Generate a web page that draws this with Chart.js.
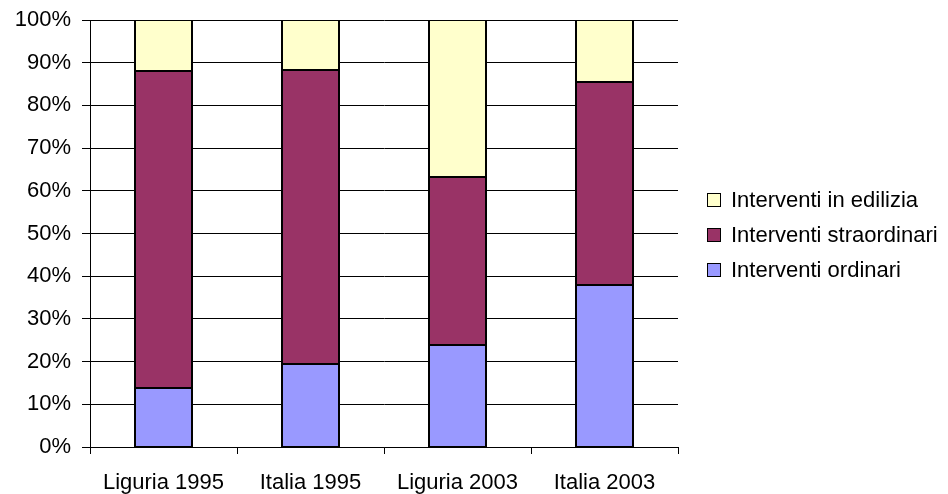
<!DOCTYPE html>
<html>
<head>
<meta charset="utf-8">
<script src="https://cdn.jsdelivr.net/npm/chart.js@4/dist/chart.umd.min.js"></script>
<style>
  html, body { margin: 0; padding: 0; background: #fff; }
  #wrap { position: relative; width: 948px; height: 494px; }
  #c { position: absolute; left: 0; top: 0; }
  #legend { position: absolute; left: 0; top: 0; font-family: "Liberation Sans", Arial, sans-serif; font-size: 22px; color: #000; }
  .row { position: absolute; left: 707px; height: 26px; line-height: 26px; white-space: nowrap; }
  .box { position: absolute; left: 0; top: 6px; width: 12px; height: 12px; border: 1px solid #000; }
  .txt { position: absolute; left: 24px; top: 0; }
</style>
</head>
<body>
<div id="wrap">
  <canvas id="c" width="948" height="494"></canvas>
  <div id="legend"></div>
</div>
<script>
const categories = ["Liguria 1995", "Italia 1995", "Liguria 2003", "Italia 2003"];
const seriesNames = ["Interventi ordinari", "Interventi straordinari", "Interventi in edilizia"];
const ordinari = [13.8, 19.4, 23.9, 38.0];
const straordinari = [74.3, 69.0, 39.4, 47.4];
const edilizia = [11.9, 11.6, 36.7, 14.6];
const seriesColors = ["#9999FF", "#993366", "#FFFFCC"];
const yTicks = [0, 10, 20, 30, 40, 50, 60, 70, 80, 90, 100];

const FONT = { family: "'Liberation Sans', Arial, sans-serif", size: 22 };

const datasets = [ordinari, straordinari, edilizia].map((d, i) => ({
  label: seriesNames[i],
  data: d,
  backgroundColor: seriesColors[i],
  borderWidth: 0,
  inflateAmount: 0,
  barThickness: 59
}));

// Outline every bar segment using the geometry Chart.js computed
const outlinePlugin = {
  id: "outline",
  afterDatasetsDraw(chart) {
    const ctx = chart.ctx;
    ctx.save();
    ctx.fillStyle = "#000";
    chart.data.datasets.forEach((ds, i) => {
      chart.getDatasetMeta(i).data.forEach(bar => {
        const p = bar.getProps(["x", "y", "base", "width"], true);
        const l = Math.round(p.x - p.width / 2);
        const r = Math.round(p.x + p.width / 2);
        const t = Math.round(Math.min(p.y, p.base));
        const b = Math.round(Math.max(p.y, p.base));
        ctx.fillRect(l, t, r - l, 1);
        ctx.fillRect(l, b - 1, r - l, 1);
        ctx.fillRect(l, t, 2, b - t);
        ctx.fillRect(r - 2, t, 2, b - t);
      });
    });
    ctx.restore();
  }
};

const chart = new Chart(document.getElementById("c"), {
  type: "bar",
  data: { labels: categories, datasets },
  plugins: [outlinePlugin],
  options: {
    responsive: false,
    animation: false,
    devicePixelRatio: 1,
    layout: { padding: { left: 0, right: 270, top: 20, bottom: 0 } },
    plugins: { legend: { display: false }, tooltip: { enabled: false } },
    scales: {
      x: {
        stacked: true,
        grid: { offset: true, drawOnChartArea: false, color: "#000", lineWidth: 1, tickLength: 7, tickColor: "#000" },
        border: { display: true, color: "#000", width: 1 },
        ticks: { color: "#000", font: FONT, padding: 16, maxRotation: 0 },
        afterFit: s => { s.height = 47; s.paddingLeft = 0; s.paddingRight = 0; }
      },
      y: {
        stacked: true,
        min: 0, max: 100,
        afterBuildTicks: s => { s.ticks = yTicks.map(v => ({ value: v })); },
        grid: { color: "#000", lineWidth: 1, tickLength: 8, tickColor: "#000" },
        border: { display: true, color: "#000", width: 1 },
        ticks: { color: "#000", font: FONT, padding: 11, callback: v => v + "%" },
        afterFit: s => { s.width = 90; s.paddingTop = 0; s.paddingBottom = 0; }
      }
    }
  }
});

// Legend (reverse order, as in reference)
const legend = document.getElementById("legend");
const tops = [187, 222, 257];
[2, 1, 0].forEach((idx, r) => {
  const row = document.createElement("div");
  row.className = "row";
  row.style.top = tops[r] + "px";
  const box = document.createElement("div");
  box.className = "box";
  box.style.background = seriesColors[idx];
  const t = document.createElement("span");
  t.className = "txt";
  t.textContent = seriesNames[idx];
  row.appendChild(box);
  row.appendChild(t);
  legend.appendChild(row);
});
</script>
</body>
</html>
